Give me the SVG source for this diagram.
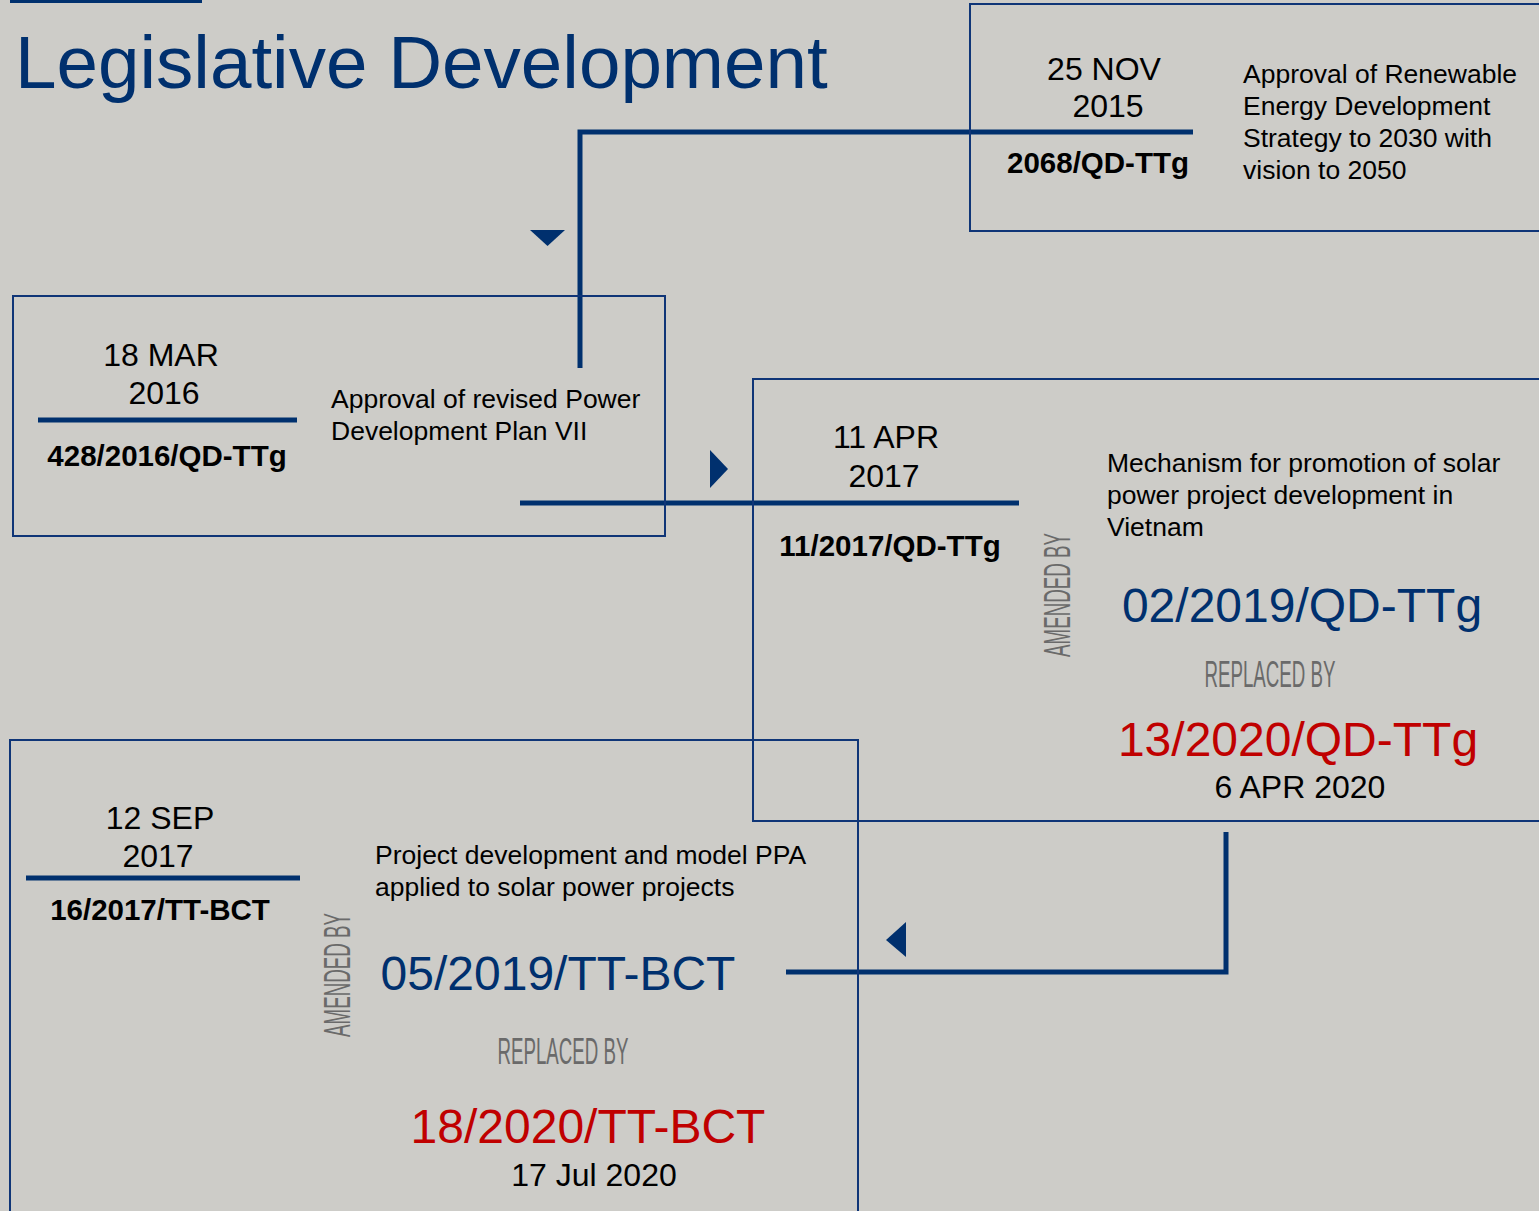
<svg xmlns="http://www.w3.org/2000/svg" width="1539" height="1211" viewBox="0 0 1539 1211">
<style>
.box{fill:none;stroke:#0f3577;stroke-width:2}
.rule{stroke:#00306e;stroke-width:5;fill:none}
.conn{stroke:#00306e;stroke-width:5;fill:none}
.arrow{fill:#00306e}
.t{font-family:"Liberation Sans",Arial,sans-serif;fill:#000}
.date{font-size:32px}
.code{font-size:29.5px;font-weight:bold}
.desc{font-size:26.5px}
.big{font-size:48px}
.navy{fill:#00306e}
.red{fill:#c00000}
.cond{font-family:"Liberation Sans",Arial,sans-serif;font-size:36px;fill:#6a6a6a}
</style>
<rect width="1539" height="1211" fill="#cdccc8"/>
<line x1="10" y1="1.5" x2="202" y2="1.5" stroke="#00306e" stroke-width="3"/>
<text class="t navy" x="15" y="88" font-size="74.6">Legislative Development</text>

<g id="connectors">
<polyline class="conn" points="1193,132 580,132 580,368"/>
<polygon class="arrow" points="530,230 565,230 547.5,246"/>
<line class="conn" x1="520" y1="503" x2="1019" y2="503"/>
<polygon class="arrow" points="710,450 728,469 710,488"/>
<polyline class="conn" points="1226,832 1226,972 786,972"/>
<polygon class="arrow" points="906,922 906,957 886,940"/>
</g>

<g id="node-2068">
<rect class="box" x="970" y="4" width="600" height="227"/>
<text class="t date" x="1104" y="80" text-anchor="middle">25 NOV</text>
<text class="t date" x="1108" y="117" text-anchor="middle">2015</text>
<text class="t code" x="1098" y="173" text-anchor="middle">2068/QD-TTg</text>
<text class="t desc" x="1243" y="83">Approval of Renewable</text>
<text class="t desc" x="1243" y="115">Energy Development</text>
<text class="t desc" x="1243" y="147">Strategy to 2030 with</text>
<text class="t desc" x="1243" y="179">vision to 2050</text>
</g>

<g id="node-428">
<rect class="box" x="13" y="296" width="652" height="240"/>
<text class="t date" x="161" y="366" text-anchor="middle">18 MAR</text>
<text class="t date" x="164" y="404" text-anchor="middle">2016</text>
<line class="rule" x1="38" y1="420" x2="297" y2="420"/>
<text class="t code" x="167" y="466" text-anchor="middle">428/2016/QD-TTg</text>
<text class="t desc" x="331" y="408">Approval of revised Power</text>
<text class="t desc" x="331" y="440">Development Plan VII</text>
</g>

<g id="node-11">
<rect class="box" x="753" y="379" width="820" height="442"/>
<text class="t date" x="886" y="448" text-anchor="middle">11 APR</text>
<text class="t date" x="884" y="487" text-anchor="middle">2017</text>
<text class="t code" x="890" y="556" text-anchor="middle">11/2017/QD-TTg</text>
<text class="t desc" x="1107" y="472">Mechanism for promotion of solar</text>
<text class="t desc" x="1107" y="504">power project development in</text>
<text class="t desc" x="1107" y="536">Vietnam</text>
<text class="cond" transform="translate(1070,595) rotate(-90)" text-anchor="middle" textLength="124" lengthAdjust="spacingAndGlyphs">AMENDED BY</text>
<text class="t big navy" x="1302" y="622" text-anchor="middle">02/2019/QD-TTg</text>
<text class="cond" x="1270" y="687" text-anchor="middle" textLength="131" lengthAdjust="spacingAndGlyphs">REPLACED BY</text>
<text class="t big red" x="1298" y="756" text-anchor="middle">13/2020/QD-TTg</text>
<text class="t date" x="1300" y="798" text-anchor="middle">6 APR 2020</text>
</g>

<g id="node-16">
<rect class="box" x="10" y="740" width="848" height="500"/>
<text class="t date" x="160" y="829" text-anchor="middle">12 SEP</text>
<text class="t date" x="158" y="867" text-anchor="middle">2017</text>
<line class="rule" x1="26" y1="878" x2="300" y2="878"/>
<text class="t code" x="160" y="920" text-anchor="middle">16/2017/TT-BCT</text>
<text class="t desc" x="375" y="864">Project development and model PPA</text>
<text class="t desc" x="375" y="896">applied to solar power projects</text>
<text class="cond" transform="translate(350,975) rotate(-90)" text-anchor="middle" textLength="124" lengthAdjust="spacingAndGlyphs">AMENDED BY</text>
<text class="t big navy" x="558" y="990" text-anchor="middle">05/2019/TT-BCT</text>
<text class="cond" x="563" y="1064" text-anchor="middle" textLength="131" lengthAdjust="spacingAndGlyphs">REPLACED BY</text>
<text class="t big red" x="588" y="1143" text-anchor="middle">18/2020/TT-BCT</text>
<text class="t date" x="594" y="1186" text-anchor="middle">17 Jul 2020</text>
</g>
</svg>
